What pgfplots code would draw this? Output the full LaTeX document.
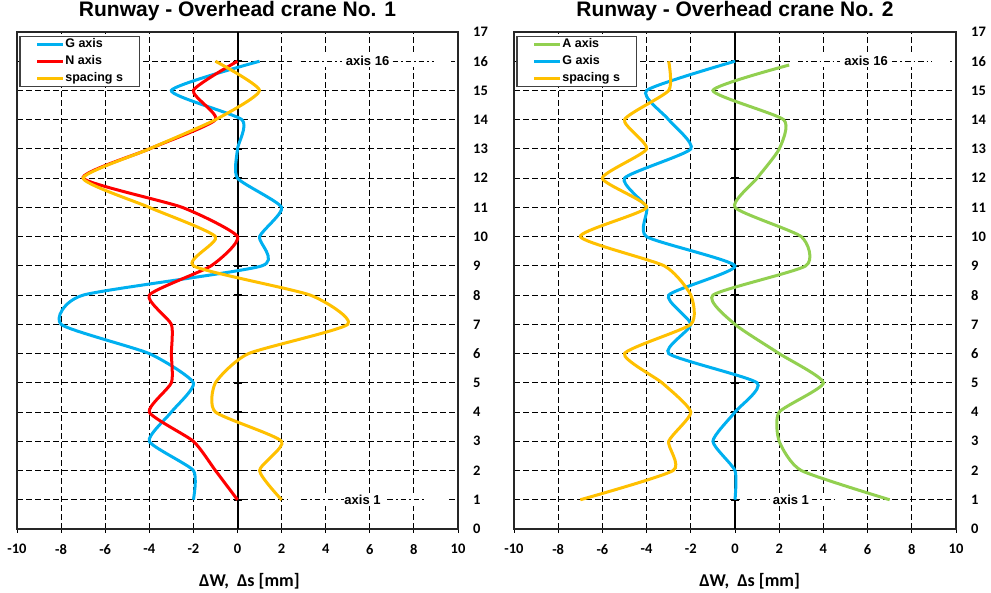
\documentclass[border=0pt]{standalone}
\usepackage{fontspec}
\setmainfont{Liberation Sans}
\newfontfamily\carlito{Carlito}
\usepackage{pgfplots}
\pgfplotsset{compat=1.18}
\definecolor{cblue}{RGB}{0,176,240}
\definecolor{cred}{RGB}{255,0,0}
\definecolor{cyel}{RGB}{255,192,0}
\definecolor{cgreen}{RGB}{146,208,80}
\newcommand\tickfont{\carlito\bfseries\fontsize{14.5bp}{16bp}\selectfont}
\tikzset{
 dashdot/.style={black, line width=1.4bp, dash pattern=on 5.5bp off 3bp on 1.6bp off 3bp},
 annfont/.style={font=\bfseries\fontsize{13bp}{15bp}\selectfont, inner sep=0pt}
}
\pgfplotsset{
 runway/.style={
  scale only axis, width=441bp, height=497bp,
  xmin=-10,xmax=10,ymin=0,ymax=17,
  xtick={-10,-8,...,10},
  xticklabels={-10,-8,-6,-4,-2,0,2,4,6,8,10},
  ytick={0,1,...,17},
  yticklabels={0,1,2,3,4,5,6,7,8,9,10,11,12,13,14,15,16,17},
  yticklabel pos=right, ytick pos=right, xtick pos=left,
  grid=major,
  major grid style={black, line width=1bp, dash pattern=on 5.5bp off 3.5bp},
  axis line style={black!85, line width=2bp},
  tick align=outside, major tick length=4bp,
  x tick style={black, line width=1bp},
  y tick style={draw=none},
  xticklabel style={font=\tickfont, inner sep=0pt, yshift=-11bp},
  yticklabel style={font=\tickfont, inner sep=0pt, anchor=west, xshift=11bp},
  title style={font=\bfseries\fontsize{21bp}{24bp}\selectfont, at={(axis description cs:0.5,1)}, anchor=base, yshift=10bp},
  legend cell align=left,
  legend image code/.code={\draw[##1, line width=3bp] (0bp,0bp) -- (26bp,0bp);},
  legend style={at={(axis description cs:0.005,0.992)}, anchor=north west, draw=black!75, line width=1.3bp,
    font=\bfseries\fontsize{12.5bp}{14bp}\selectfont, inner xsep=16bp, inner ysep=1.5bp, row sep=4bp,
    nodes={inner sep=0.5bp, text height=9bp, text depth=3bp}},
  every axis plot/.append style={line width=3bp, smooth, tension=0.35, no marks},
  xlabel={\carlito ΔW,\ \ Δs [mm]},
 },
}
\begin{document}
\begin{tikzpicture}
\path[use as bounding box] (0,0) rectangle (991bp,593bp);
% ---------------- left
\begin{axis}[runway, at={(17bp,64bp)}, anchor=south west,
  title={Runway - Overhead crane No. 1},
  xlabel style={font=\carlito\bfseries\fontsize{18bp}{20bp}\selectfont, at={(axis description cs:0.527,0)}, anchor=base, yshift=-57bp}]
\draw[black, line width=2bp] (axis cs:0,0) -- (axis cs:0,17);
\pgfplotsinvokeforeach{1,...,16}{\draw[black, line width=1.5bp] ([xshift=-4bp]axis cs:0,#1) -- ([xshift=4bp]axis cs:0,#1);}
\addplot[cblue] coordinates {(-2,1) (-2,2) (-4,3) (-3,4) (-2,5) (-4,6) (-8,7) (-7,8) (1.1,9) (1,10) (2,11) (0,12) (0,13) (0.2,14) (-3,15) (1,16)};
\addlegendentry{G axis}
\addplot[cred] coordinates {(0,1) (-1,2) (-2,3) (-4,4) (-3,5) (-3,6) (-3,7) (-4,8) (-1.2,9) (0,10) (-2.5,11) (-7,12) (-4,13) (-1,14) (-2,15) (0,16)};
\addlegendentry{N axis}
\addplot[cyel] coordinates {(2,1) (1,2) (2,3) (-1,4) (-1,5) (0.5,6) (5,7) (3.3,8) (-2,9) (-1,10) (-4,11) (-7,12) (-4,13) (-1,14) (1,15) (-1,16)};
\addlegendentry{spacing s}
\fill[white] (axis cs:2.45,15.8) rectangle (axis cs:9.7,16.2);
\draw[dashdot] (axis cs:2.86,16) -- (axis cs:4.76,16);
\draw[dashdot] (axis cs:7.03,16) -- (axis cs:8.9,16);
\node[annfont] at (axis cs:5.9,16) {axis 16};
\fill[white] (axis cs:2.27,0.8) rectangle (axis cs:9.6,1.2);
\draw[dashdot] (axis cs:2.9,1) -- (axis cs:4.85,1);
\draw[dashdot] (axis cs:6.8,1) -- (axis cs:8.57,1);
\node[annfont] at (axis cs:5.67,1) {axis 1};
\end{axis}
% ---------------- right
\begin{axis}[runway, width=442bp, at={(514bp,64bp)}, anchor=south west,
  title={Runway - Overhead crane No. 2},
  xlabel style={font=\carlito\bfseries\fontsize{18bp}{20bp}\selectfont, at={(axis description cs:0.533,0)}, anchor=base, yshift=-57bp}]
\draw[black, line width=2bp] (axis cs:0,0) -- (axis cs:0,17);
\pgfplotsinvokeforeach{1,...,16}{\draw[black, line width=1.5bp] ([xshift=-4bp]axis cs:0,#1) -- ([xshift=4bp]axis cs:0,#1);}
\addplot[cgreen] coordinates {(7,1) (3,2) (2,3) (2,4) (4,5) (2,6) (0,7) (-1,8) (3.2,9) (3,10) (0,11) (1,12) (2,13) (2.2,14) (-1,15) (2.45,15.87)};
\addlegendentry{A axis}
\addplot[cblue] coordinates {(0,1) (0,2) (-1,3) (0,4) (1,5) (-3,6) (-2,7) (-3,8) (0,9) (-4,10) (-4,11) (-5,12) (-2,13) (-3,14) (-4,15) (0,16)};
\addlegendentry{G axis}
\addplot[cyel] coordinates {(-7,1) (-2.8,2) (-3,3) (-2,4) (-3.3,5) (-5,6) (-2,7) (-2,8) (-3.2,9) (-7,10) (-4,11) (-6,12) (-4,13) (-5,14) (-3,15) (-3,16)};
\addlegendentry{spacing s}
\fill[white] (axis cs:2.49,15.8) rectangle (axis cs:9.73,16.2);
\draw[dashdot] (axis cs:2.85,16) -- (axis cs:4.75,16);
\draw[dashdot] (axis cs:7.1,16) -- (axis cs:8.9,16);
\node[annfont] at (axis cs:5.93,16) {axis 16};
\fill[white] (axis cs:0.23,0.8) rectangle (axis cs:4.98,1.2);
\draw[dashdot] (axis cs:0.54,1) -- (axis cs:1.58,1);
\draw[dashdot] (axis cs:3.48,1) -- (axis cs:4.6,1);
\node[annfont] at (axis cs:2.53,1) {axis 1};
\end{axis}
\end{tikzpicture}
\end{document}
